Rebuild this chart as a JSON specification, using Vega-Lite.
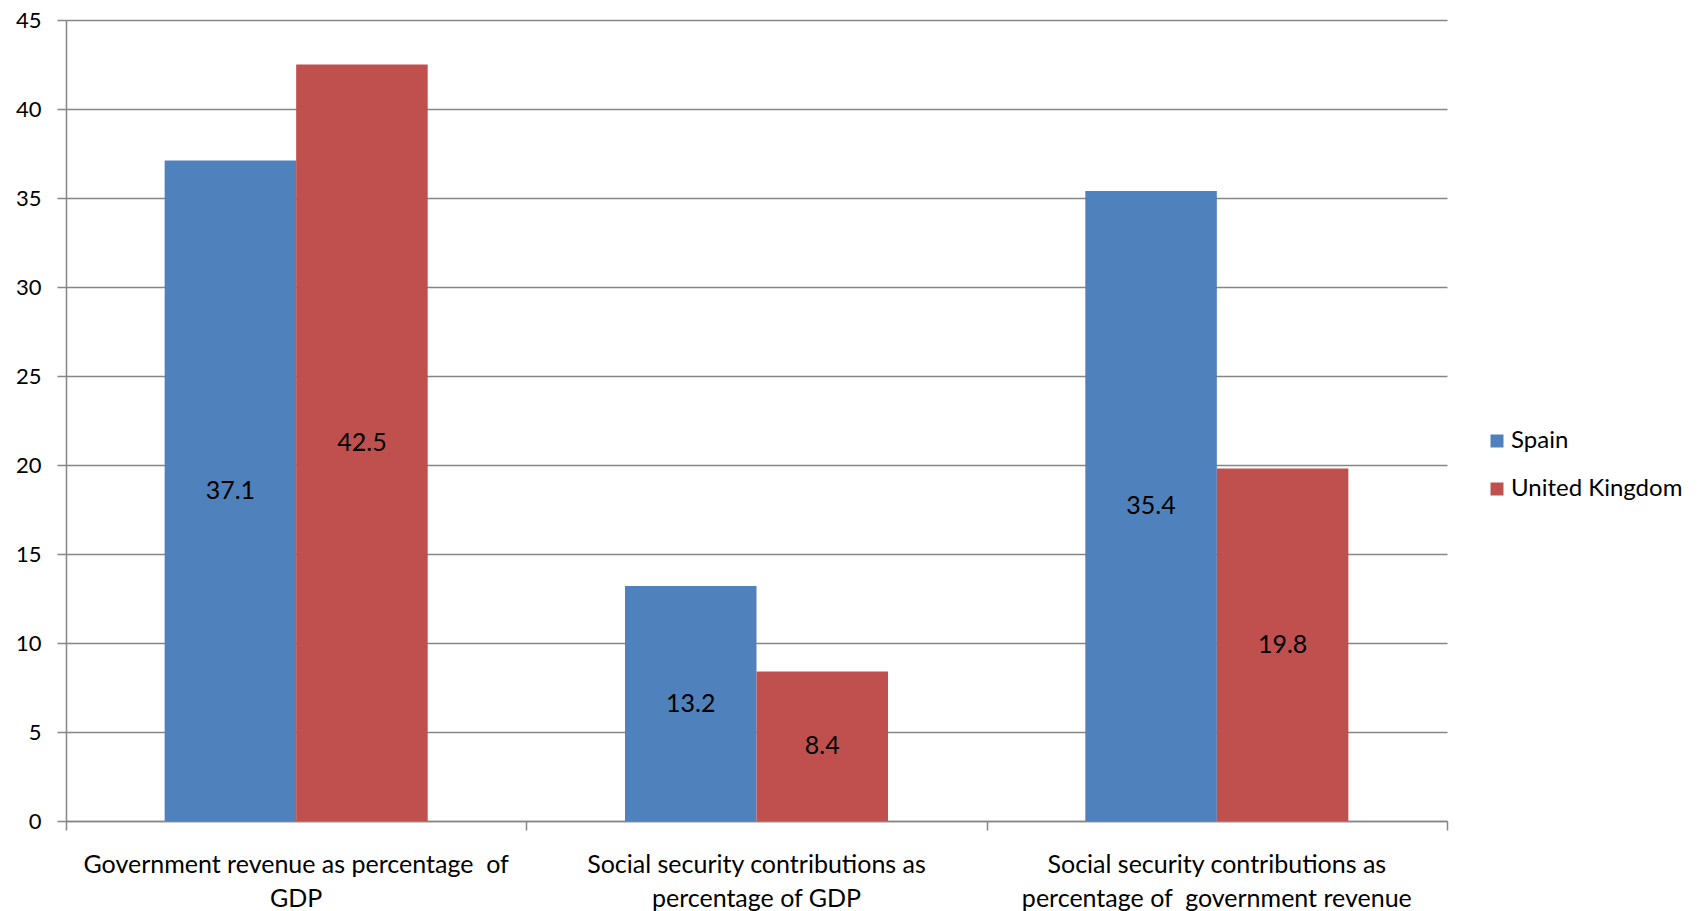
{
  "$schema": "https://vega.github.io/schema/vega-lite/v6.json",
  "width": 1381,
  "height": 801,
  "autosize": {"type": "none"},
  "padding": {"left": 66, "top": 20, "right": 256, "bottom": 90},
  "background": "white",
  "config": {
    "view": {"stroke": null},
    "font": "Lato",
    "axis": {"labelFont": "Lato", "labelFontSize": 22, "labelColor": "#000000"}
  },
  "data": {
    "values": [
      {"measure": "Government revenue as percentage  of GDP", "country": "Spain", "value": 37.1},
      {"measure": "Government revenue as percentage  of GDP", "country": "United Kingdom", "value": 42.5},
      {"measure": "Social security contributions as percentage of GDP", "country": "Spain", "value": 13.2},
      {"measure": "Social security contributions as percentage of GDP", "country": "United Kingdom", "value": 8.4},
      {"measure": "Social security contributions as percentage of  government revenue", "country": "Spain", "value": 35.4},
      {"measure": "Social security contributions as percentage of  government revenue", "country": "United Kingdom", "value": 19.8}
    ]
  },
  "encoding": {
    "xOffset": {
      "field": "country",
      "type": "nominal",
      "scale": {"paddingInner": 0, "paddingOuter": 0.75}
    }
  },
  "layer": [
    {
      "mark": {"type": "bar"},
      "encoding": {
        "x": {
          "field": "measure",
          "type": "nominal",
          "sort": null,
          "title": null,
          "scale": {"paddingInner": 0, "paddingOuter": 0},
          "axis": {
            "orient": "bottom",
            "labels": false,
            "tickBand": "extent",
            "domainColor": "#868686",
            "domainWidth": 1.5,
            "tickColor": "#868686",
            "tickWidth": 1.5,
            "tickSize": 9
          }
        },
        "y": {
          "field": "value",
          "type": "quantitative",
          "title": null,
          "scale": {"domain": [0, 45]},
          "axis": {
            "values": [0, 5, 10, 15, 20, 25, 30, 35, 40, 45],
            "grid": true,
            "gridColor": "#868686",
            "gridWidth": 1.5,
            "domainColor": "#868686",
            "domainWidth": 1.5,
            "tickColor": "#868686",
            "tickWidth": 1.5,
            "tickSize": 9,
            "labelPadding": 16
          }
        },
        "color": {
          "field": "country",
          "type": "nominal",
          "title": null,
          "scale": {"domain": ["Spain", "United Kingdom"], "range": ["#4F81BD", "#C0504D"]},
          "legend": {
            "orient": "none",
            "legendX": 1419,
            "legendY": 409,
            "symbolType": "square",
            "symbolSize": 169,
            "symbolStrokeWidth": 0,
            "labelFont": "Lato",
            "labelFontSize": 24,
            "labelColor": "#000000",
            "labelLimit": 400,
            "labelOffset": 2,
            "rowPadding": 24,
            "padding": 0
          }
        }
      }
    },
    {
      "mark": {"type": "text", "fontSize": 25, "font": "Lato", "color": "#000000", "baseline": "middle"},
      "encoding": {
        "x": {
          "field": "measure",
          "type": "nominal",
          "sort": null,
          "title": null,
          "axis": {
            "orient": "bottom",
            "labelAngle": 0,
            "ticks": false,
            "domain": false,
            "labelLimit": 2000,
            "labelFontSize": 25,
            "labelPadding": 31,
            "labelBaseline": "top",
            "labelLineHeight": 34,
            "labelExpr": "datum.value == 'Government revenue as percentage  of GDP' ? ['Government revenue as percentage\u00a0 of', 'GDP'] : datum.value == 'Social security contributions as percentage of GDP' ? ['Social security contributions as', 'percentage of GDP'] : ['Social security contributions as', 'percentage of\u00a0 government revenue']"
          }
        },
        "y": {
          "field": "value",
          "type": "quantitative",
          "scale": {"domain": [0, 90]},
          "axis": null
        },
        "text": {"field": "value", "type": "quantitative", "format": ".1f"}
      }
    }
  ],
  "resolve": {"scale": {"y": "independent"}, "axis": {"x": "independent"}}
}
